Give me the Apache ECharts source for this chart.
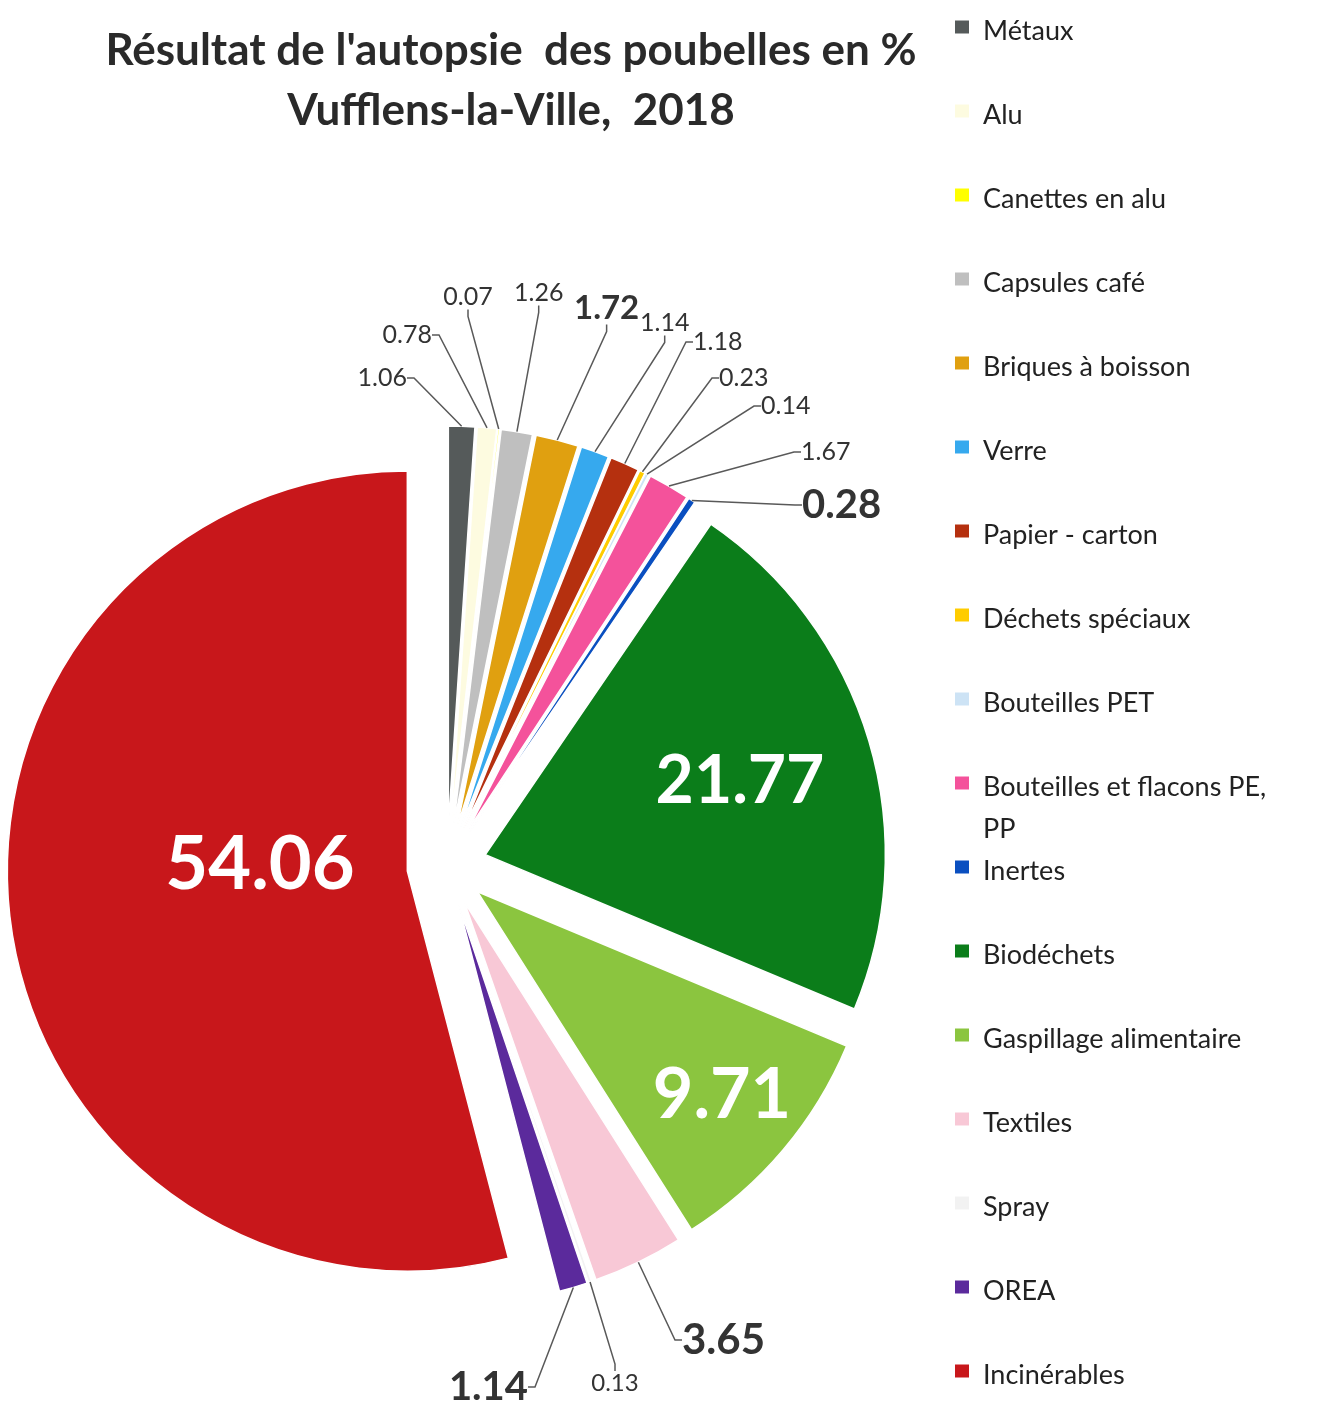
<!DOCTYPE html>
<html><head><meta charset="utf-8">
<script src="https://cdn.jsdelivr.net/npm/echarts@6/dist/echarts.min.js"></script>
<style>html,body{margin:0;padding:0;background:#fff}#c{width:1338px;height:1404px}</style>
</head><body><div id="c"></div>
<script>
// ---- data ----
const categories = ['Métaux', 'Alu', 'Canettes en alu', 'Capsules café', 'Briques à boisson', 'Verre',
  'Papier - carton', 'Déchets spéciaux', 'Bouteilles PET', 'Bouteilles et flacons PE, PP', 'Inertes',
  'Biodéchets', 'Gaspillage alimentaire', 'Textiles', 'Spray', 'OREA', 'Incinérables'];
const values = [1.06, 0.78, 0.07, 1.26, 1.72, 1.14, 1.18, 0.23, 0.14, 1.67, 0.28, 21.77, 9.71, 3.65, 0.13, 1.14, 54.06];
const titleLines = ["Résultat de l'autopsie  des poubelles en %", 'Vufflens-la-Ville,  2018'];

// ---- presentation ----
const colors = ['#555a5a', '#fdfbe0', '#ffff00', '#bfbfbf', '#e0a010', '#36a9ee', '#b5300f', '#ffcc00', '#cde3f5',
  '#f4529b', '#0a4fc0', '#0b7d1a', '#8bc53f', '#f8c8d6', '#f2f2f2', '#5b2a9c', '#c8171b'];
// label placement / size per slice (style only)
const labelCfg = [
  {x: 407, y: 378, align: 'right', size: 25},
  {x: 432, y: 335, align: 'right', size: 25},
  {x: 468, y: 297, align: 'center', size: 25},
  {x: 514, y: 293, align: 'left', size: 25},
  {x: 574, y: 308, align: 'left', size: 33, bold: true},
  {x: 640, y: 323, align: 'left', size: 25},
  {x: 693, y: 342, align: 'left', size: 25},
  {x: 719, y: 378, align: 'left', size: 25},
  {x: 761, y: 406, align: 'left', size: 25},
  {x: 801, y: 452, align: 'left', size: 25},
  {x: 802, y: 505, align: 'left', size: 40, bold: true},
  {x: 740, y: 782, align: 'center', size: 66, bold: true, inside: true},
  {x: 722, y: 1095, align: 'center', size: 70, bold: true, inside: true},
  {x: 682, y: 1340, align: 'left', size: 42, bold: true},
  {x: 615, y: 1383, align: 'center', size: 24},
  {x: 528, y: 1387, align: 'right', size: 40, bold: true},
  {x: 260, y: 865, align: 'center', size: 74, bold: true, inside: true}
];

const FONT = 'Lato, "Open Sans", sans-serif';
const CENTER = [447, 866];
const RADIUS = 400;
const EXPLODE = 40;
const LEGEND_SPLIT = 10;     // legend drawn as two stacked blocks so the wrapped entry keeps even spacing
const LEGEND_STEP = 84;
const LEGEND_TOP = 14;

const chart = echarts.init(document.getElementById('c'), null, {renderer: 'canvas'});

// visible, exploded slices
const sliceData = categories.map((name, i) => ({
  name: name,
  value: values[i],
  selected: true,
  itemStyle: {color: colors[i]}
}));

// transparent twin (radius = exploded outer edge) that only carries the labels
const labelData = categories.map((name, i) => {
  const c = labelCfg[i];
  const item = {
    name: name,
    value: values[i],
    label: {fontSize: c.size, fontWeight: c.bold ? 'bold' : 'normal'}
  };
  if (c.inside) {
    item.label.position = 'inside';
    item.label.color = '#ffffff';
    item.labelLine = {show: false};
  }
  return item;
});

function legendBlock(names, offset, top) {
  return {
    orient: 'vertical',
    left: 953,
    top: top,
    padding: 0,
    itemWidth: 16,
    itemHeight: 15,
    itemGap: 50,
    icon: 'rect',
    selectedMode: false,
    data: names.map((n, i) => ({name: n, itemStyle: {color: colors[offset + i]}})),
    formatter: function (name) {
      return '{n|' + name.replace(', PP', ',}\n{n|PP') + '}';
    },
    textStyle: {
      height: 34,
      padding: [0, 0, 0, 8],
      rich: {
        n: {fontFamily: FONT, fontSize: 27, lineHeight: 42, height: 34, color: '#222222'}
      }
    }
  };
}

chart.setOption({
  backgroundColor: '#ffffff',
  animation: false,
  color: colors,
  title: {
    text: titleLines.join('\n'),
    left: 506,
    top: 16,
    textAlign: 'center',
    textStyle: {
      fontFamily: FONT,
      fontSize: 44,
      fontWeight: 'bold',
      color: '#2a2a2a',
      lineHeight: 60
    }
  },
  legend: [
    legendBlock(categories.slice(0, LEGEND_SPLIT), 0, LEGEND_TOP),
    legendBlock(categories.slice(LEGEND_SPLIT), LEGEND_SPLIT, LEGEND_TOP + LEGEND_SPLIT * LEGEND_STEP)
  ],
  series: [{
    type: 'pie',
    center: CENTER,
    radius: RADIUS,
    startAngle: 90,
    clockwise: true,
    selectedMode: 'multiple',
    selectedOffset: EXPLODE,
    silent: true,
    emphasis: {disabled: true},
    itemStyle: {borderColor: '#ffffff', borderWidth: 1.5},
    select: {itemStyle: {borderColor: '#ffffff', borderWidth: 1.5}},
    label: {show: false},
    labelLine: {show: false},
    data: sliceData
  }, {
    type: 'pie',
    center: CENTER,
    radius: RADIUS + EXPLODE,
    startAngle: 90,
    clockwise: true,
    selectedMode: false,
    silent: true,
    z: 3,
    avoidLabelOverlap: false,
    emphasis: {disabled: true},
    itemStyle: {color: 'rgba(0,0,0,0)', opacity: 0},
    label: {
      show: true,
      position: 'outside',
      fontFamily: FONT,
      color: '#333333',
      opacity: 1,
      formatter: function (p) { return p.value.toFixed(2); }
    },
    labelLine: {
      show: true,
      length: 10,
      length2: 7,
      smooth: false,
      lineStyle: {color: '#595959', width: 1.5, opacity: 1}
    },
    labelLayout: function (params) {
      const c = labelCfg[params.dataIndex];
      return {x: c.x, y: c.y, align: c.align, verticalAlign: 'middle'};
    },
    data: labelData
  }]
});
</script>
</body></html>
